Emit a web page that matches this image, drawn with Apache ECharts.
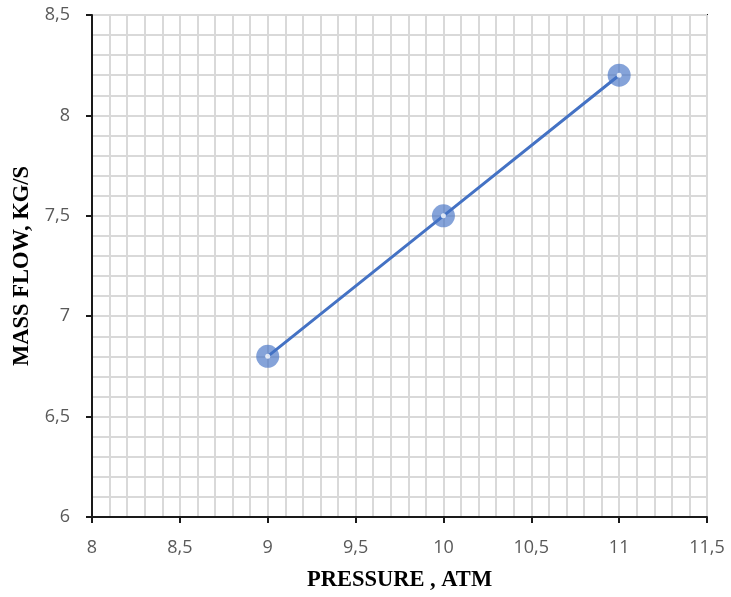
<!DOCTYPE html>
<html><head><meta charset="utf-8">
<script src="https://cdn.jsdelivr.net/npm/echarts@6/dist/echarts.min.js"></script>
<style>html,body{margin:0;padding:0;background:#fff;overflow:hidden}#c{width:731px;height:597px}</style>
</head><body><div id="c"></div>
<script>
const pressure = [9, 10, 11];
const massFlow = [6.8, 7.5, 8.2];
const xName = 'PRESSURE , ATM';
const yName = 'MASS FLOW, KG/S';
const fmt = v => String(v).replace('.', ',');
const chart = echarts.init(document.getElementById('c'));
const axisCommon = {
  axisLine: {show: true, lineStyle: {color: '#1a1a1a', width: 2}},
  axisTick: {show: true, inside: false, length: 6, lineStyle: {color: '#1a1a1a', width: 2}},
  splitLine: {show: true, lineStyle: {color: '#d9d9d9', width: 2}},
  minorTick: {show: false, splitNumber: 5},
  minorSplitLine: {show: true, lineStyle: {color: '#d9d9d9', width: 2}},
  axisLabel: {color: '#595959', fontSize: 18, fontFamily: 'Open Sans', formatter: fmt},
  nameTextStyle: {fontFamily: 'Liberation Serif', fontWeight: 'bold', fontSize: 22.5, color: '#000'}
};
chart.setOption({
  animation: false,
  grid: {left: 92, right: 24, top: 15, bottom: 79, show: true, borderColor: '#1a1a1a', borderWidth: 2, backgroundColor: 'transparent'},
  xAxis: Object.assign({}, axisCommon, {
    type: 'value', min: 8, max: 11.5, interval: 0.5,
    name: xName, nameLocation: 'middle', nameGap: 52,
    axisLabel: Object.assign({}, axisCommon.axisLabel, {margin: 22})
  }),
  yAxis: Object.assign({}, axisCommon, {
    type: 'value', min: 6, max: 8.5, interval: 0.5,
    name: yName, nameLocation: 'middle', nameGap: 58,
    axisLabel: Object.assign({}, axisCommon.axisLabel, {margin: 22})
  }),
  series: [{
    type: 'line',
    data: pressure.map((p, i) => [p, massFlow[i]]),
    lineStyle: {color: '#4472c4', width: 3},
    symbol: 'circle', symbolSize: 23,
    itemStyle: {color: 'rgba(68,114,196,0.65)'},
    z: 3
  }, {
    type: 'scatter',
    data: pressure.map((p, i) => [p, massFlow[i]]),
    symbolSize: 5,
    itemStyle: {color: '#ffffff'},
    z: 4
  }]
});
</script></body></html>
